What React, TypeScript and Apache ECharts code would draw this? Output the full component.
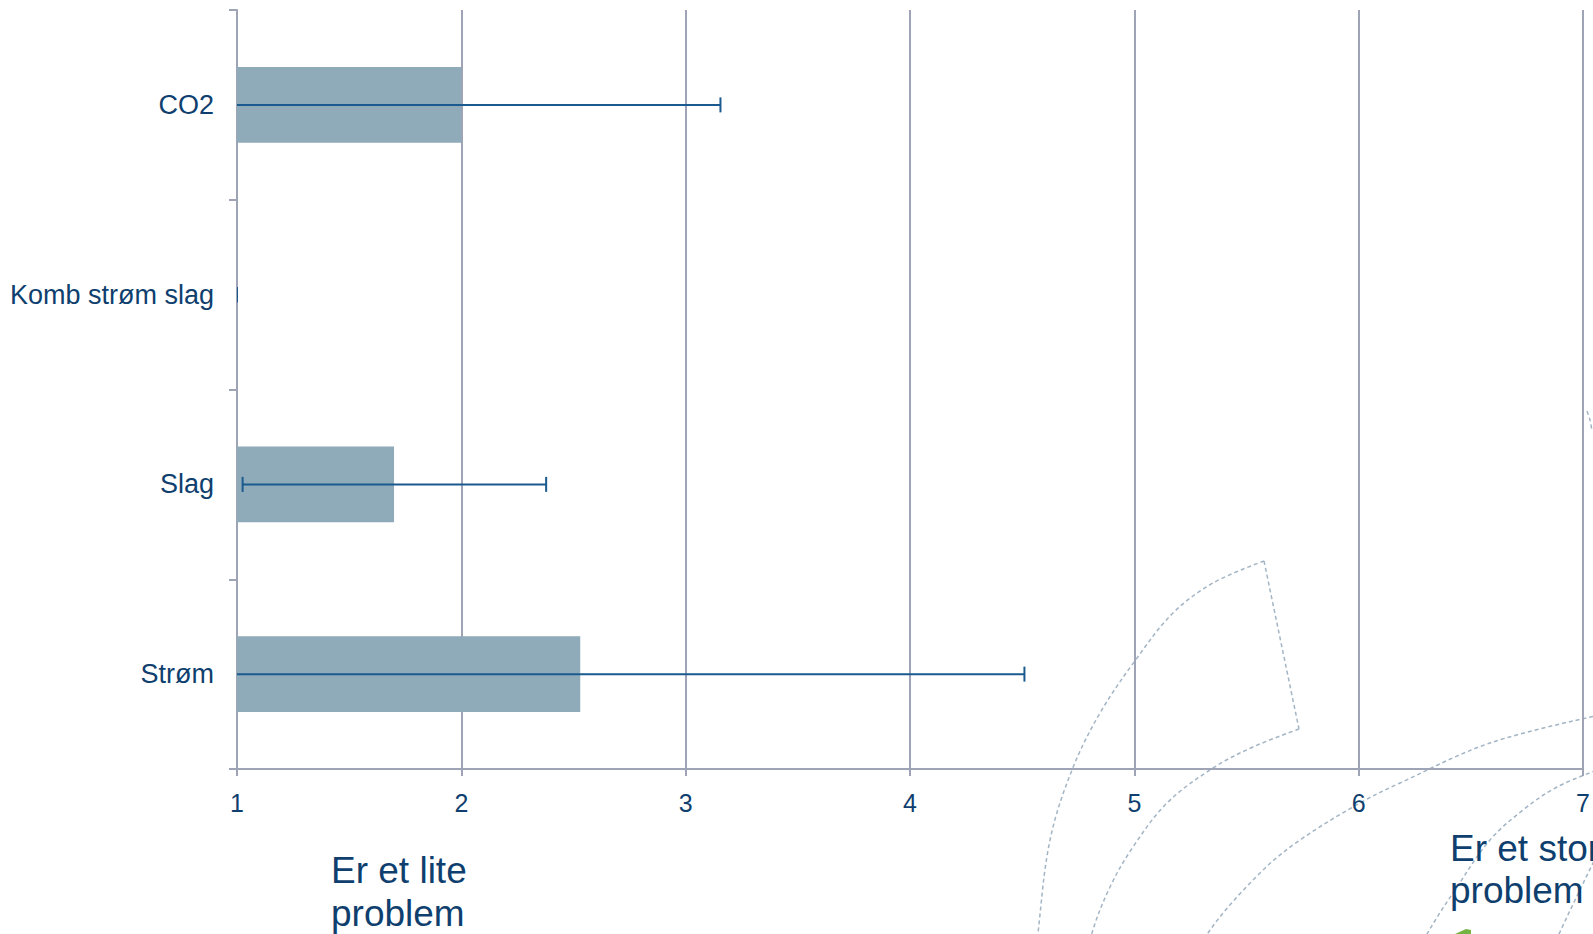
import React, { useEffect, useRef } from "react";
import * as echarts from "echarts";

// ---- data ----
const categories = ["CO2", "Komb strøm slag", "Slag", "Strøm"];
const means = [2.0, 1.0, 1.7, 2.53];
const errLow = [0.85, 1.0, 1.025, 0.55];
const errHigh = [3.155, 1.0, 2.378, 4.51];
const xMin = 1;
const xMax = 7;
const xStep = 1;
const leftNote = "Er et lite\nproblem";
const rightNote = "Er et stor\nproblem";

// ---- styles ----
const FONT = '"Liberation Sans", Arial, Helvetica, sans-serif';
const TEXT = "#0f3f6e";
const GRID = "#9ea4b6";
const BAR = "#8faab8";
const ERR = "#1b5a8e";
const DASH = "#a3b5c4";

// decorative dashed outlines (background logo fragments)
const decoLines: number[][][] = [
  [[1264, 561], [1213, 583], [1173, 613], [1137, 658], [1100, 713], [1072, 770], [1050, 840], [1038, 933], [1036, 960]],
  [[1264, 561], [1299, 729]],
  [[1299, 729], [1253, 747], [1213, 768], [1167, 803], [1133, 847], [1110, 887], [1092, 933], [1088, 960]],
  [[1200, 960], [1208, 933], [1260, 873], [1300, 840], [1360, 803], [1400, 783], [1490, 743], [1600, 715]],
  [[1415, 960], [1427, 934], [1457, 887], [1490, 840], [1523, 810], [1557, 787], [1600, 769]],
  [[1548, 960], [1559, 934], [1593, 863], [1600, 850]],
  [[1587, 411], [1590, 420], [1592, 431]],
];

export default function App() {
  const ref = useRef<HTMLDivElement>(null);
  useEffect(() => {
    if (!ref.current) return;
    const chart = echarts.init(ref.current, undefined, { renderer: "svg" });
    const errData = categories.map((_, i) => [i, errLow[i], errHigh[i]]);

    const graphics: any[] = decoLines.map((pts) => ({
      type: "polyline",
      z: 0,
      silent: true,
      shape: { points: pts, smooth: pts.length > 2 ? 0.35 : 0 },
      style: { stroke: DASH, lineWidth: 1.5, lineDash: [4, 3], fill: null },
    }));
    graphics.push({
      type: "polygon",
      z: 0,
      silent: true,
      shape: { points: [[1455, 934], [1466, 929], [1471, 930], [1471, 934]] },
      style: { fill: "#74b443" },
    });
    graphics.push({
      type: "text",
      x: 331,
      y: 849,
      z: 5,
      style: {
        text: leftNote,
        fill: TEXT,
        fontSize: 37,
        fontFamily: FONT,
        lineHeight: 43,
        verticalAlign: "top",
      },
    });
    graphics.push({
      type: "text",
      x: 1450,
      y: 827,
      z: 5,
      style: {
        text: rightNote,
        fill: TEXT,
        fontSize: 37,
        fontFamily: FONT,
        lineHeight: 42,
        verticalAlign: "top",
      },
    });

    chart.setOption({
      animation: false,
      backgroundColor: "#ffffff",
      textStyle: { fontFamily: FONT },
      grid: { left: 237, right: 8, top: 10, bottom: 165, containLabel: false },
      xAxis: {
        type: "value",
        min: xMin,
        max: xMax,
        interval: xStep,
        axisLine: { show: true, lineStyle: { color: GRID, width: 2 } },
        axisTick: { show: true, length: 7, lineStyle: { color: GRID, width: 2 } },
        axisLabel: { color: TEXT, fontSize: 25, fontFamily: FONT, margin: 21, showMinLabel: true, showMaxLabel: true },
        splitLine: { show: true, lineStyle: { color: GRID, width: 2 } },
      },
      yAxis: {
        type: "category",
        data: categories,
        inverse: true,
        axisLine: { show: true, lineStyle: { color: GRID, width: 2 } },
        axisTick: { show: true, length: 8, lineStyle: { color: GRID, width: 2 } },
        axisLabel: { color: TEXT, fontSize: 27, fontFamily: FONT, margin: 23 },
        splitLine: { show: false },
      },
      series: [
        {
          type: "bar",
          data: means,
          barWidth: "40%",
          itemStyle: { color: BAR },
          clip: true,
          z: 2,
        },
        {
          type: "custom",
          data: errData,
          encode: { x: [1, 2], y: 0 },
          clip: true,
          z: 3,
          renderItem: (_params: any, api: any) => {
            const cat = api.value(0);
            const lo = api.coord([api.value(1), cat]);
            const hi = api.coord([api.value(2), cat]);
            const h = 7.5;
            const style = { stroke: ERR, lineWidth: 2 };
            return {
              type: "group",
              children: [
                { type: "line", shape: { x1: lo[0], y1: lo[1], x2: hi[0], y2: hi[1] }, style },
                { type: "line", shape: { x1: lo[0], y1: lo[1] - h, x2: lo[0], y2: lo[1] + h }, style },
                { type: "line", shape: { x1: hi[0], y1: hi[1] - h, x2: hi[0], y2: hi[1] + h }, style },
              ],
            };
          },
        },
      ],
      graphic: graphics,
    });
    return () => chart.dispose();
  }, []);

  return (
    <div
      ref={ref}
      style={{ position: "fixed", left: 0, top: 0, width: 1593, height: 934, overflow: "hidden", background: "#fff" }}
    />
  );
}
